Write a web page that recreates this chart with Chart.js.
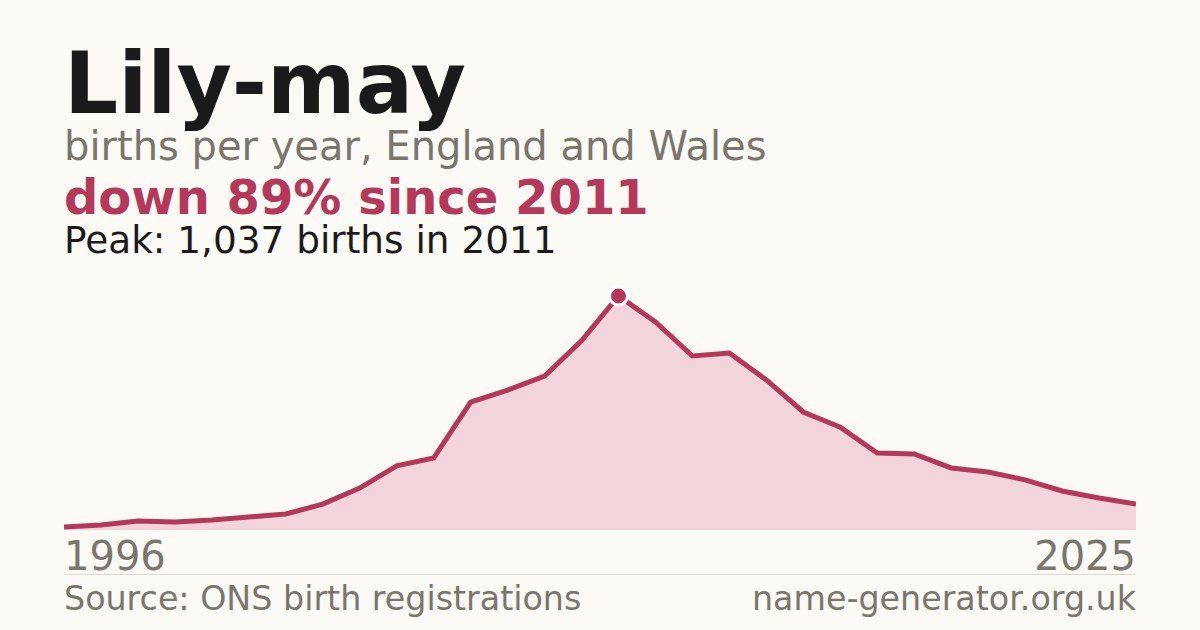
<!DOCTYPE html>
<html>
<head>
<meta charset="utf-8">
<script src="https://cdn.jsdelivr.net/npm/chart.js@4"></script>
<style>
  html, body { margin: 0; padding: 0; }
  body { width: 1200px; height: 630px; background: #fbfaf5; position: relative; overflow: hidden; font-family: "DejaVu Sans", sans-serif; }
  .t { position: absolute; left: 64px; line-height: 1; white-space: nowrap; }
  #title { top: 41px; font-size: 85px; font-weight: bold; color: #1a1a1a; }
  #sub { top: 126px; font-size: 40px; color: #7a756d; }
  #change { top: 173px; font-size: 48px; font-weight: bold; color: #b5385a; }
  #peak { top: 222px; font-size: 37.4px; color: #1a1a1a; }
  .year { top: 536px; font-size: 40px; color: #7a756d; }
  #yEnd { left: auto; right: 64px; }
  #rule { position: absolute; left: 64px; width: 1072px; top: 574px; height: 1px; background: #ddd8cf; }
  .foot { top: 582px; font-size: 33.3px; color: #7a756d; }
  #site { left: auto; right: 64px; }
  #wrap { position: absolute; left: 64px; top: 270px; width: 1072px; height: 260px; }
</style>
</head>
<body>
<div class="t" id="title">Lily-may</div>
<div class="t" id="sub">births per year, England and Wales</div>
<div class="t" id="change"></div>
<div class="t" id="peak"></div>
<div id="wrap"><canvas id="chart"></canvas></div>
<div class="t year" id="yStart"></div>
<div class="t year" id="yEnd"></div>
<div id="rule"></div>
<div class="t foot">Source: ONS birth registrations</div>
<div class="t foot" id="site">name-generator.org.uk</div>

<script>
const years = [
  1996, 1997, 1998, 1999, 2000, 2001, 2002, 2003, 2004, 2005,
  2006, 2007, 2008, 2009, 2010, 2011, 2012, 2013, 2014, 2015,
  2016, 2017, 2018, 2019, 2020, 2021, 2022, 2023, 2024, 2025,
];
const births = [
  13, 22, 40, 35, 44, 58, 71, 115, 186, 284,
  319, 567, 620, 682, 838, 1037, 922, 771, 784, 665,
  523, 456, 341, 337, 275, 257, 222, 173, 142, 115,
];

const lineColor = "#b5385a";
const fillColor = "#f2d5db";

// peak + headline text
const peakIdx = births.indexOf(Math.max(...births));
const peakVal = births[peakIdx];
const lastVal = births[births.length - 1];
const drop = Math.round((1 - lastVal / peakVal) * 100);

document.querySelector("#change").textContent = "down " + drop + "% since " + years[peakIdx];
document.querySelector("#peak").textContent =
  "Peak: " + peakVal.toLocaleString("en-GB") + " births in " + years[peakIdx];
document.querySelector("#yStart").textContent = years[0];
document.querySelector("#yEnd").textContent = years[years.length - 1];

// only the peak gets a marker
const radii = births.map((v, i) => (i === peakIdx ? 9 : 0));

const ctx = document.querySelector("#chart").getContext("2d");

new Chart(ctx, {
  type: "line",
  data: {
    labels: years,
    datasets: [
      {
        data: births,
        borderColor: lineColor,
        borderWidth: 5,
        backgroundColor: fillColor,
        fill: "origin",
        tension: 0,
        pointRadius: radii,
        pointHoverRadius: radii,
        pointBackgroundColor: lineColor,
        pointBorderColor: "#ffffff",
        pointBorderWidth: 3,
        clip: false,
      },
    ],
  },
  options: {
    responsive: true,
    maintainAspectRatio: false,
    animation: false,
    layout: { padding: 0 },
    plugins: { legend: { display: false }, tooltip: { enabled: false } },
    scales: {
      x: { display: false, offset: false },
      y: { display: false, min: 0, max: peakVal * 1.111 },
    },
  },
});
</script>
</body>
</html>
